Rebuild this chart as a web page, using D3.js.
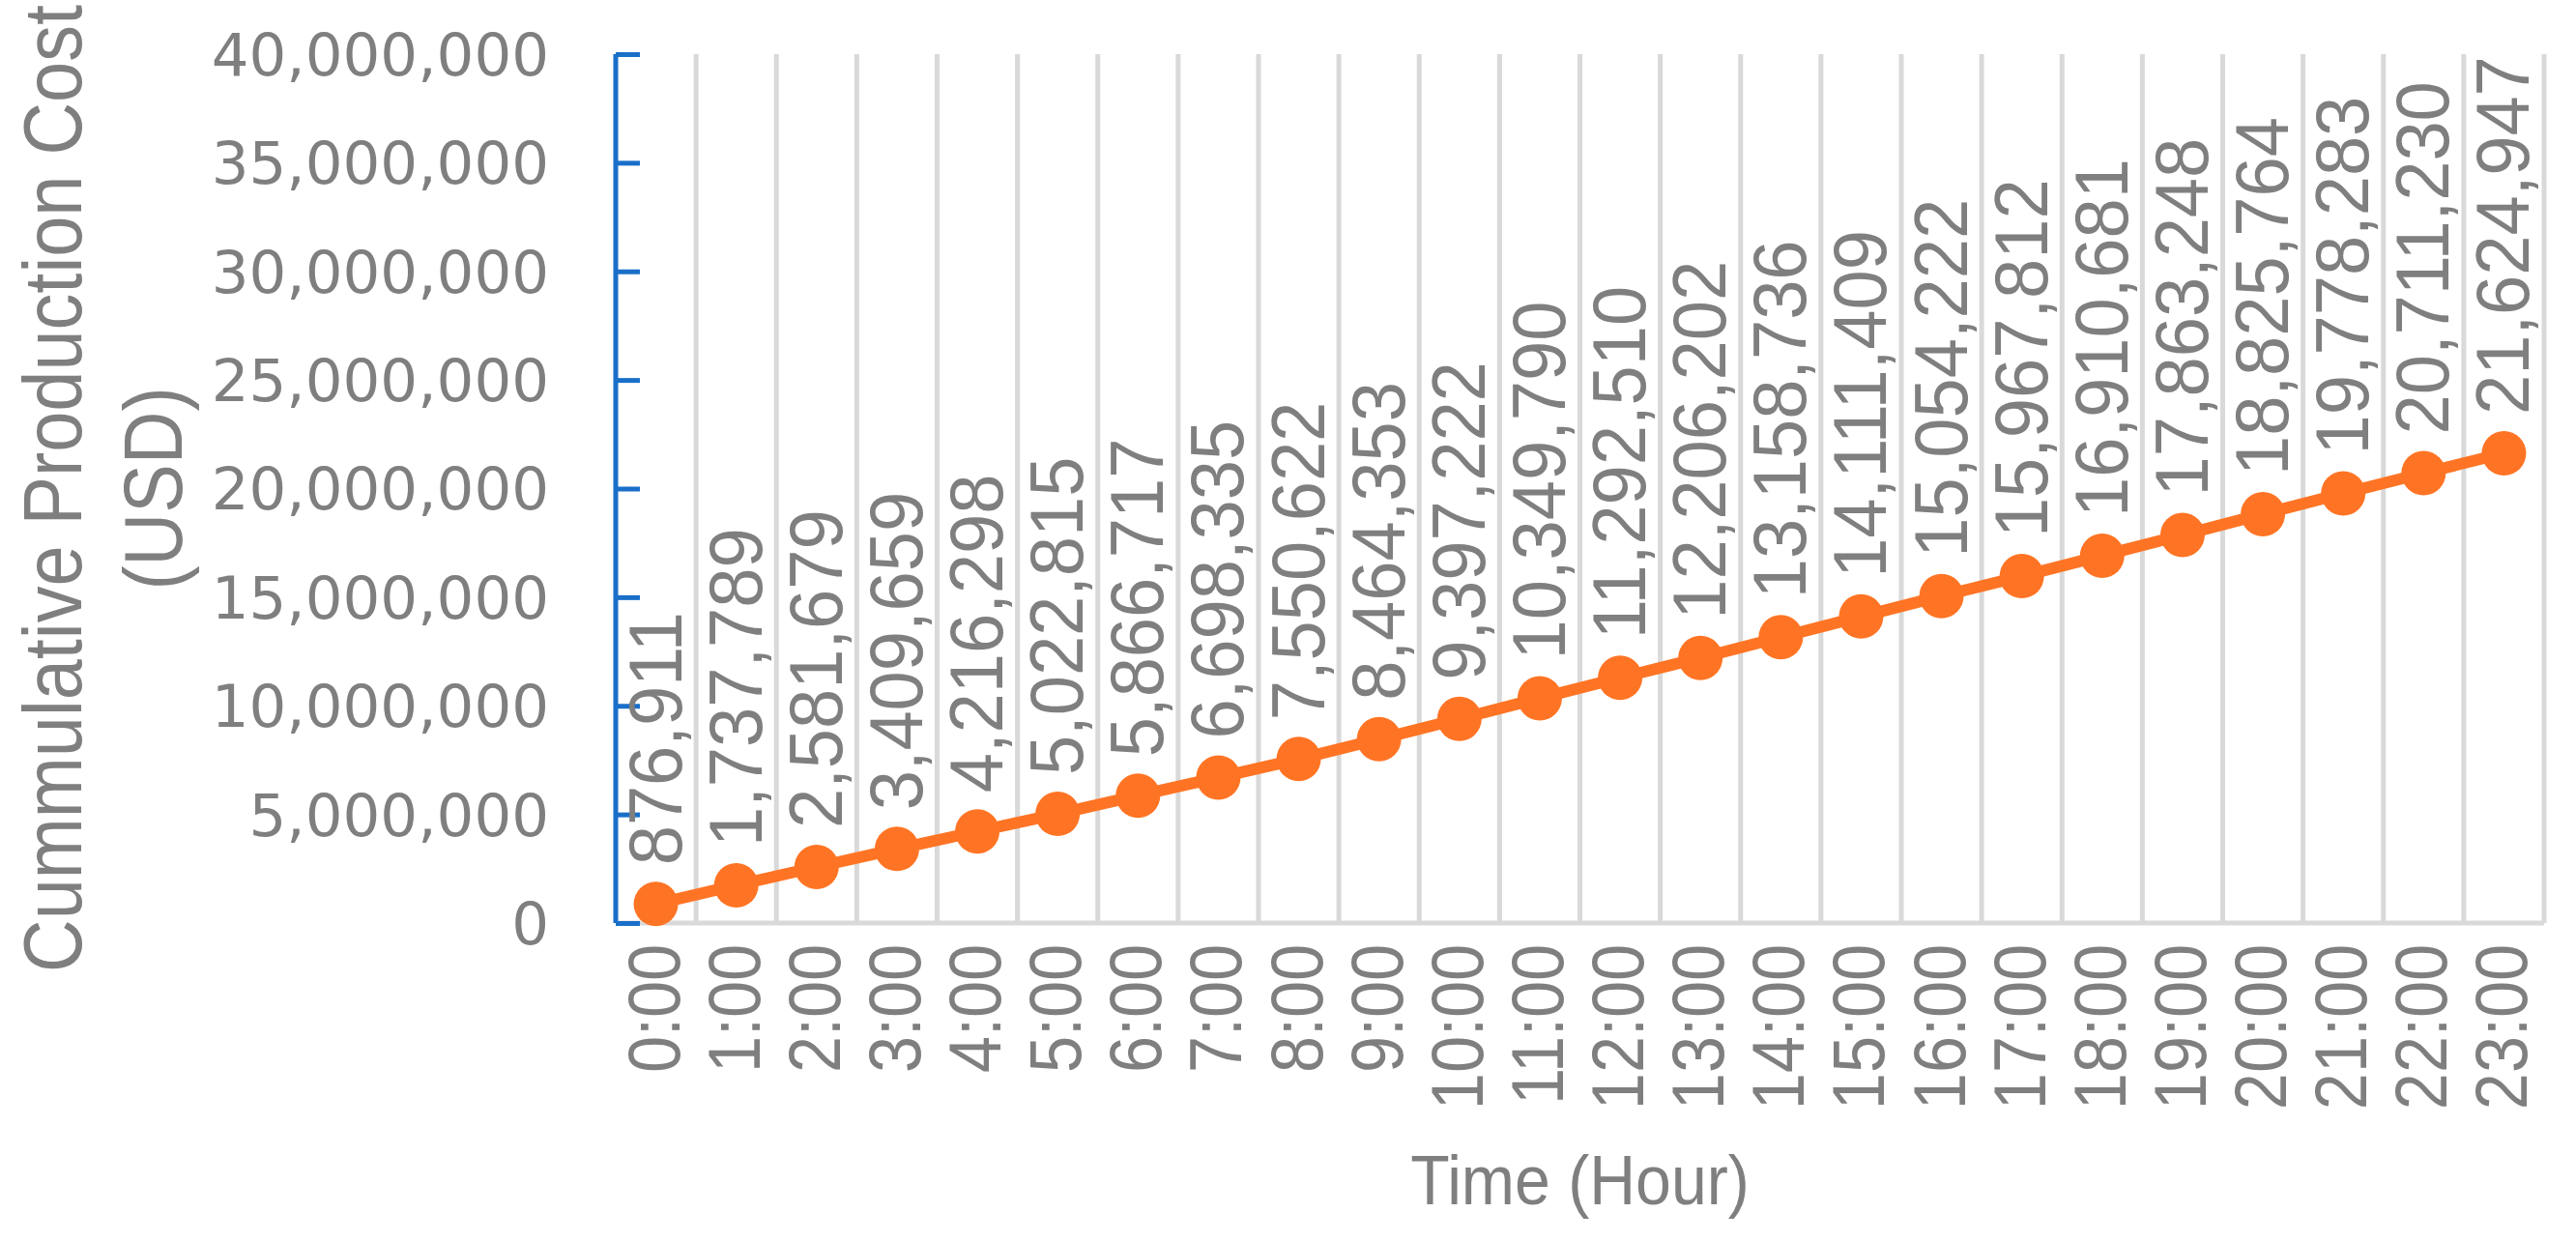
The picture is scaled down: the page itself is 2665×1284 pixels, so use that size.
<!DOCTYPE html>
<html><head><meta charset="utf-8">
<script src="https://cdn.jsdelivr.net/npm/d3@7"></script>
<style>body{margin:0;background:#fff}</style>
</head><body><svg id="chart" width="2665" height="1284"></svg>
<script>
const hours = d3.range(24).map(h => `${h}:00`);
const costs = [876911, 1737789, 2581679, 3409659, 4216298, 5022815, 5866717, 6698335,
  7550622, 8464353, 9397222, 10349790, 11292510, 12206202, 13158736, 14111409,
  15054222, 15967812, 16910681, 17863248, 18825764, 19778283, 20711230, 21624947];
const yTicks = d3.range(0, 40000001, 5000000);

const margin = { left: 637, right: 33, top: 56, bottom: 329 };
const width = 2665, height = 1284;
const grey = '#7f7f7f', orange = '#ff7424', blue = '#1a6fc9';
const narrow = '"Liberation Sans Narrow", "Arial Narrow", "Liberation Sans", sans-serif';

const svg = d3.select('#chart');
const x = d3.scaleBand().domain(hours).range([margin.left, width - margin.right]);
const y = d3.scaleLinear().domain([0, 40000000]).range([height - margin.bottom, margin.top]);
const fmt = d3.format(',');

// vertical gridlines at category boundaries
svg.append('g').selectAll('line').data(hours)
  .join('line')
  .attr('x1', (d, i) => margin.left + (i + 1) * x.step())
  .attr('x2', (d, i) => margin.left + (i + 1) * x.step())
  .attr('y1', y(40000000)).attr('y2', y(0))
  .attr('stroke', '#d9d9d9').attr('stroke-width', 5);

// x baseline
svg.append('line').attr('x1', margin.left).attr('x2', width - margin.right)
  .attr('y1', y(0)).attr('y2', y(0)).attr('stroke', '#d9d9d9').attr('stroke-width', 5);

// y axis
const yAxis = svg.append('g').attr('transform', `translate(${margin.left},0)`)
  .call(d3.axisRight(y).tickValues(yTicks).tickSize(25).tickFormat(''));
yAxis.selectAll('line, path').attr('stroke', blue).attr('stroke-width', 5);
yAxis.select('.domain').attr('d', `M0,${y(40000000)}V${y(0)}`);

svg.append('g').selectAll('text').data(yTicks).join('text')
  .attr('x', 568).attr('y', d => y(d)).attr('dy', '0.36em')
  .attr('text-anchor', 'end').attr('fill', grey)
  .style('font', '61px "DejaVu Sans", sans-serif').text(fmt);

// x tick labels
svg.append('g').selectAll('text').data(hours).join('text')
  .attr('transform', d => `translate(${x(d) + x.bandwidth() / 2 + 24},${y(0) + 22}) rotate(-90) scale(0.9,1)`)
  .attr('text-anchor', 'end').attr('fill', grey)
  .style('font', `76px ${narrow}`).text(d => d);

// line + markers
svg.append('path').datum(costs)
  .attr('d', d3.line().x((d, i) => x(hours[i]) + x.bandwidth() / 2).y(d => y(d)))
  .attr('fill', 'none').attr('stroke', orange).attr('stroke-width', 12);
svg.append('g').selectAll('circle').data(costs).join('circle')
  .attr('cx', (d, i) => x(hours[i]) + x.bandwidth() / 2).attr('cy', d => y(d))
  .attr('r', 23).attr('fill', orange);

// data labels
svg.append('g').selectAll('text').data(costs).join('text')
  .attr('transform', (d, i) => `translate(${x(hours[i]) + x.bandwidth() / 2 + 26},${y(d) - 40}) rotate(-90) scale(0.95,1)`)
  .attr('fill', grey).style('font', `78px ${narrow}`).text(fmt);

// titles
svg.append('text')
  .attr('transform', `translate(${(margin.left + width - margin.right) / 2},1246) scale(0.92,1)`)
  .attr('text-anchor', 'middle').attr('fill', grey)
  .style('font', `72px ${narrow}`).text('Time (Hour)');
const yt = svg.append('text').attr('transform', `translate(0,${(y(0) + y(40000000)) / 2}) rotate(-90) scale(0.88,1)`)
  .attr('text-anchor', 'middle').attr('fill', grey).style('font', `86px ${narrow}`);
yt.append('tspan').attr('x', 0).attr('y', 84).text('Cummulative Production Cost');
yt.append('tspan').attr('x', 0).attr('y', 188).text('(USD)');
</script></body></html>
